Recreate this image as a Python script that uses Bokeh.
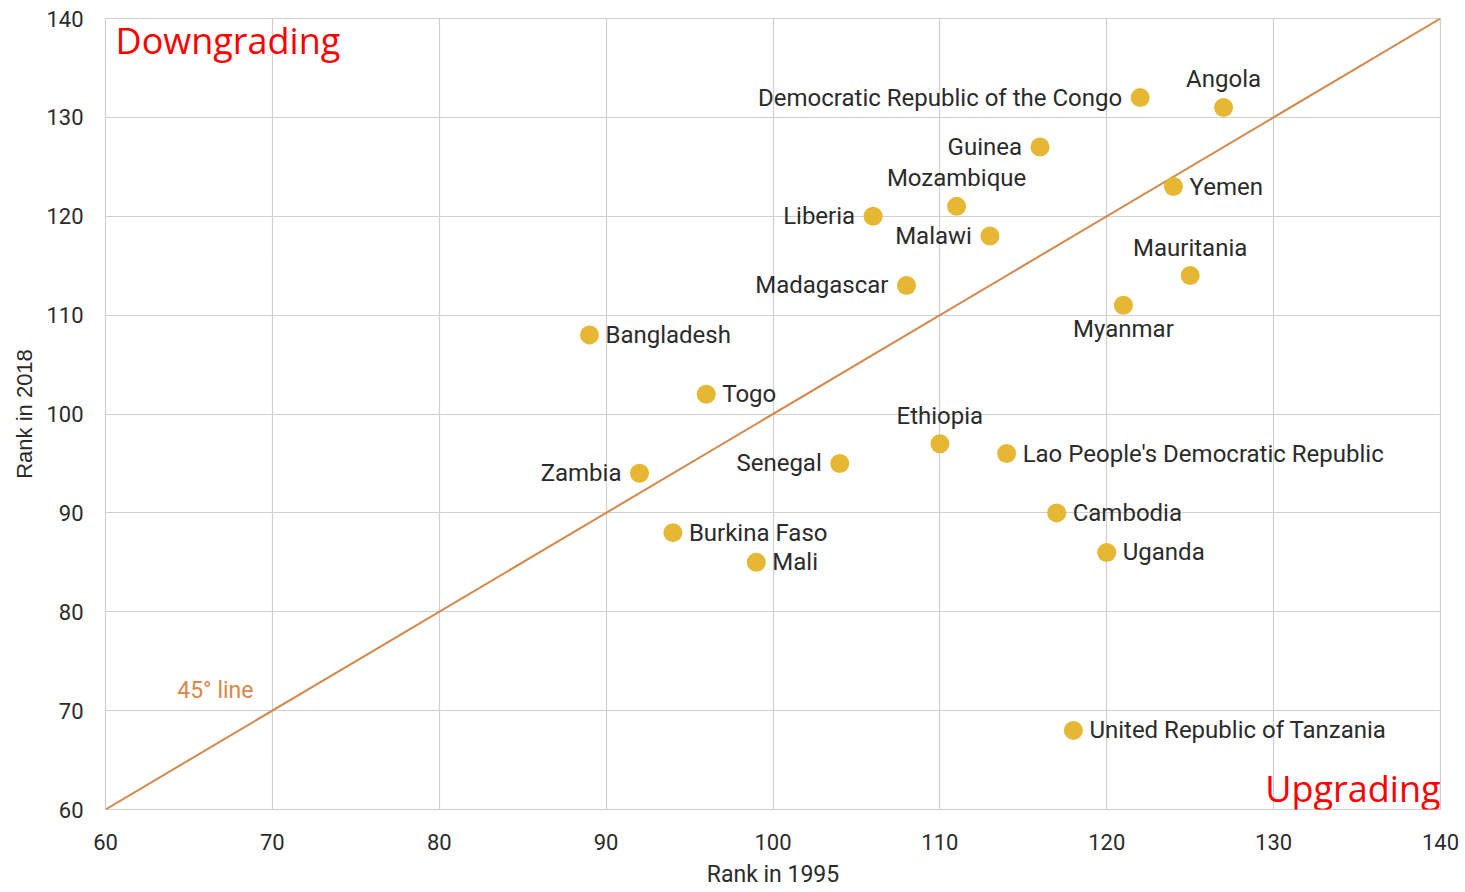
from bokeh.plotting import figure
from bokeh.models import ColumnDataSource, LabelSet, Label, FixedTicker, Range1d
from bokeh.core.properties import value
from bokeh.embed import file_html
from bokeh.resources import INLINE

countries = ["Democratic Republic of the Congo", "Angola", "Guinea", "Yemen", "Mozambique",
             "Liberia", "Malawi", "Mauritania", "Madagascar", "Myanmar", "Bangladesh", "Togo",
             "Ethiopia", "Lao People's Democratic Republic", "Senegal", "Zambia", "Cambodia",
             "Burkina Faso", "Uganda", "Mali", "United Republic of Tanzania"]
rank_1995 = [122, 127, 116, 124, 111, 106, 113, 125, 108, 121, 89, 96, 110, 114, 104, 92, 117, 94, 120, 99, 118]
rank_2018 = [132, 131, 127, 123, 121, 120, 118, 114, 113, 111, 108, 102, 97, 96, 95, 94, 90, 88, 86, 85, 68]
label_side = ["left", "above", "left", "right", "above", "left", "left", "above", "left", "below",
              "right", "right", "above", "right", "left", "left", "right", "right", "right", "right", "right"]
ticks = [60, 70, 80, 90, 100, 110, 120, 130, 140]
diag_x = [60, 140]
diag_y = [60, 140]

FONT = "Roboto"
TXT = "#2b2b2b"

offs = {"left": (-18, 0, "right"), "right": (16, 0, "left"),
        "above": (0, 28, "center"), "below": (0, -24, "center")}
xo = [offs[s][0] for s in label_side]
yo = [offs[s][1] for s in label_side]
al = [offs[s][2] for s in label_side]

src = ColumnDataSource(dict(x=rank_1995, y=rank_2018, name=countries, xo=xo, yo=yo, al=al))

p = figure(width=1462, height=890, output_backend="svg", toolbar_location=None,
           x_range=Range1d(60, 140), y_range=Range1d(60, 140),
           min_border_left=105, min_border_right=22, min_border_top=18, min_border_bottom=77,
           x_axis_label="Rank in 1995", y_axis_label="Rank in 2018")

for ax in (p.xaxis[0], p.yaxis[0]):
    ax.ticker = FixedTicker(ticks=ticks)
    ax.axis_line_color = None
    ax.major_tick_line_color = None
    ax.minor_tick_line_color = None
    ax.major_label_text_font = FONT
    ax.major_label_text_font_size = "22px"
    ax.major_label_text_color = TXT
    ax.axis_label_text_color = TXT
    ax.axis_label_text_font_style = "normal"
p.xaxis[0].major_label_standoff = 18
p.yaxis[0].major_label_standoff = 16
p.xaxis[0].axis_label_text_font = FONT
p.xaxis[0].axis_label_text_font_size = "23px"
p.xaxis[0].axis_label_standoff = 8
p.yaxis[0].axis_label_text_font = "Liberation Sans"
p.yaxis[0].axis_label_text_font_size = "22px"
p.yaxis[0].axis_label_standoff = 6

p.xgrid.ticker = FixedTicker(ticks=ticks)
p.ygrid.ticker = FixedTicker(ticks=ticks)
p.grid.grid_line_color = "#d0d0d0"
p.grid.grid_line_width = 1.2
p.outline_line_color = "#d0d0d0"
p.outline_line_width = 1.2

p.line(diag_x, diag_y, line_color="#d4894a", line_width=2)
p.scatter("x", "y", source=src, size=19, fill_color="#e6b732", line_color=None)

p.add_layout(LabelSet(x="x", y="y", text="name", source=src, x_offset="xo", y_offset="yo",
                      text_align="al", text_baseline="middle", text_font=value(FONT),
                      text_font_size="24px", text_color=TXT))

p.add_layout(Label(x=64.3, y=72.0, text="45° line", text_font=FONT, text_font_size="23px",
                   text_color="#d9884a", text_baseline="middle", text_align="left"))
p.add_layout(Label(x=60.6, y=137.8, text="Downgrading", text_font="Open Sans",
                   text_font_size="36px", text_color="#ff0000", text_baseline="middle", text_align="left"))
p.add_layout(Label(x=140, y=62.1, text="Upgrading", text_font="Open Sans",
                   text_font_size="36px", text_color="#ff0000", text_baseline="middle", text_align="right"))

open("out.html", "w").write(file_html(p, INLINE))
